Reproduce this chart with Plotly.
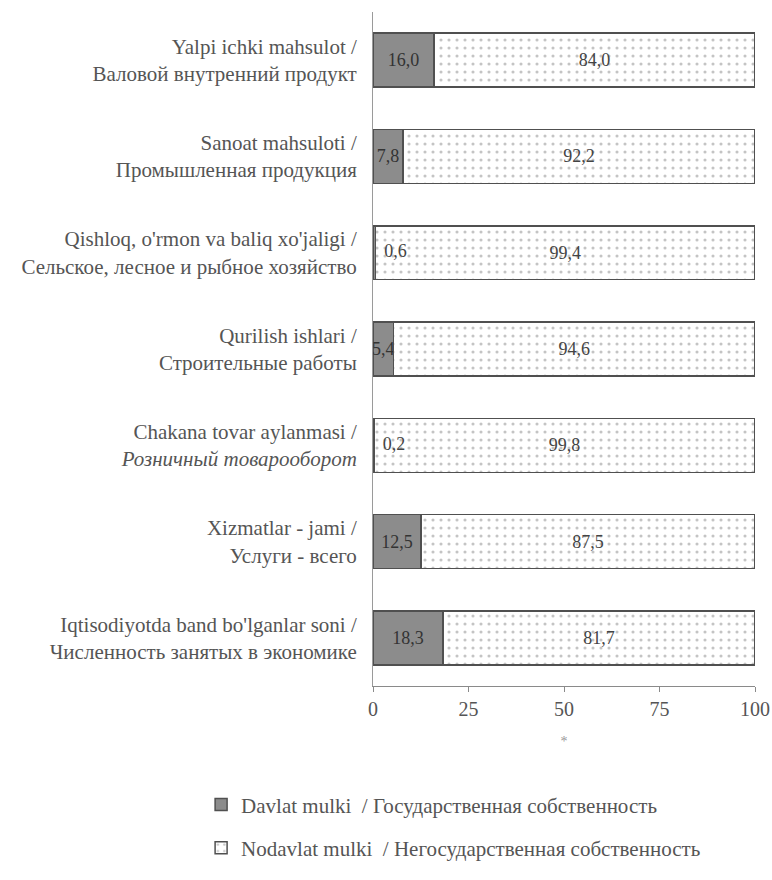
import plotly.graph_objects as go

categories = [
    "Yalpi ichki mahsulot /<br>Валовой внутренний продукт",
    "Sanoat mahsuloti /<br>Промышленная продукция",
    "Qishloq, o'rmon va baliq xo'jaligi /<br>Сельское, лесное и рыбное хозяйство",
    "Qurilish ishlari /<br>Строительные работы",
    "Chakana tovar aylanmasi /<br><i>Розничный товарооборот</i>",
    "Xizmatlar - jami /<br>Услуги - всего",
    "Iqtisodiyotda band bo'lganlar soni /<br>Численность занятых в экономике",
]
davlat = [16.0, 7.8, 0.6, 5.4, 0.2, 12.5, 18.3]
nodavlat = [84.0, 92.2, 99.4, 94.6, 99.8, 87.5, 81.7]
tick_vals = [0, 25, 50, 75, 100]
series_names = [
    "Davlat mulki  / Государственная собственность",
    "Nodavlat mulki  / Негосударственная собственность",
]


def fmt(v):
    return f"{v:.1f}".replace(".", ",")


FONT = "Liberation Serif, Times New Roman, serif"
LBL = "#555555"

gray_text = [fmt(v) if v >= 2 else "" for v in davlat]
small_x = [v for v in davlat if v < 2]
small_y = [c for v, c in zip(davlat, categories) if v < 2]
small_t = ["  " + fmt(v) for v in davlat if v < 2]

fig = go.Figure()
fig.add_trace(go.Bar(
    y=categories, x=davlat, orientation="h", name=series_names[0],
    legendgroup="a",
    marker=dict(color="#8c8c8c", line=dict(color="#505050", width=1.5)),
    text=gray_text, textposition="inside", insidetextanchor="middle", textangle=0,
    textfont=dict(family=FONT, size=18, color="#333333"),
    cliponaxis=False,
))
fig.add_trace(go.Bar(
    y=categories, x=nodavlat, orientation="h", name=series_names[1],
    legendgroup="b",
    marker=dict(color="white", line=dict(color="#505050", width=1.5),
                pattern=dict(shape=".", fgcolor="#8a8a8a", bgcolor="white",
                             size=8, solidity=0.12)),
    text=[fmt(v) for v in nodavlat], textposition="inside", insidetextanchor="middle",
    textangle=0,
    textfont=dict(family=FONT, size=18, color="#444444"),
))
fig.add_trace(go.Scatter(
    y=small_y, x=small_x, mode="text", text=small_t, textposition="middle right",
    textfont=dict(family=FONT, size=18, color="#444444"), showlegend=False,
    hoverinfo="skip",
))

fig.update_layout(
    width=772, height=880,
    margin=dict(l=373, r=17, t=12, b=192),
    barmode="stack", bargap=0.44,
    plot_bgcolor="white", paper_bgcolor="white",
    font=dict(family=FONT, size=18, color=LBL),
    uniformtext=dict(minsize=18, mode="show"),
    xaxis=dict(range=[0, 100], tickvals=tick_vals, showgrid=False, zeroline=False,
               automargin=False,
               showline=True, linecolor="#8a8a8a", linewidth=1,
               ticks="outside", ticklen=5, tickcolor="#8a8a8a",
               tickfont=dict(family=FONT, size=20, color=LBL),
               title=dict(text="*", font=dict(family=FONT, size=14, color="#999999"),
                          standoff=17)),
    yaxis=dict(categoryorder="array", categoryarray=categories,
               range=[6.5, -0.5], showgrid=False, zeroline=False,
               automargin=False,
               showline=True, linecolor="#9a9a9a", linewidth=1, ticks="",
               ticklabelstandoff=11,
               tickfont=dict(family=FONT, size=21, color=LBL)),
    legend=dict(orientation="v", x=-0.45, y=-0.146, xanchor="left", yanchor="top",
                traceorder="grouped", tracegroupgap=13,
                font=dict(family=FONT, size=21, color=LBL)),
)

fig.write_html(
    "out.html",
    config={"displayModeBar": False},
    post_script="document.body.style.margin='0';document.body.style.overflow='hidden';",
)
